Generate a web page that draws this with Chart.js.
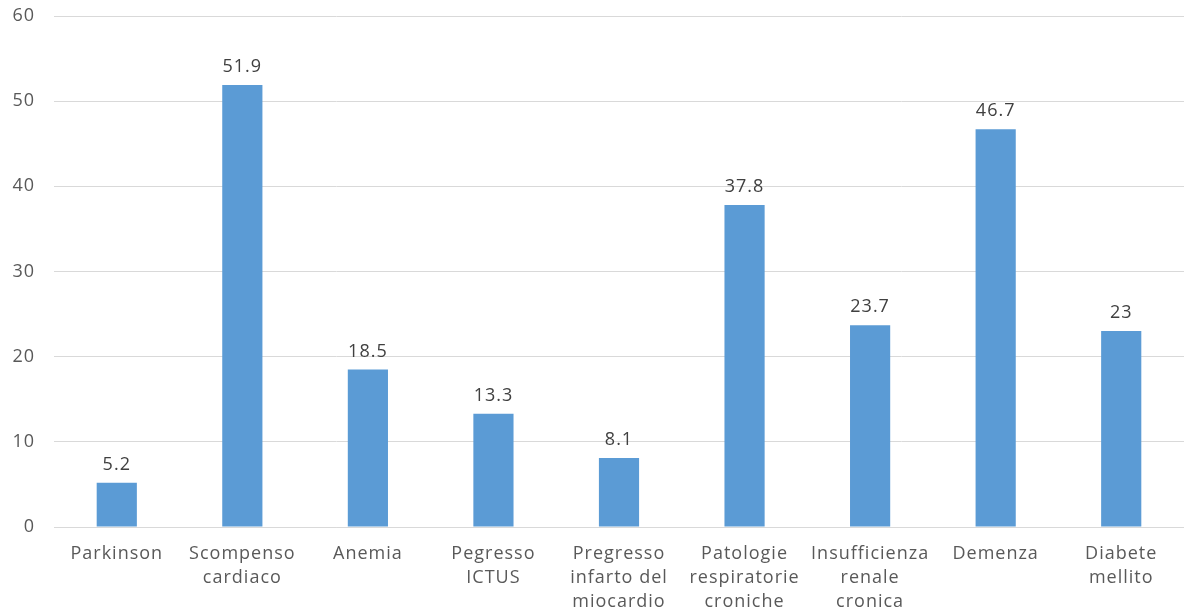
<!DOCTYPE html>
<html>
<head>
<meta charset="utf-8">
<script src="https://cdn.jsdelivr.net/npm/chart.js@4.4.0/dist/chart.umd.min.js"></script>
<style>
  html, body { margin: 0; padding: 0; background: #ffffff; }
  #wrap { width: 1184px; height: 610px; }
</style>
</head>
<body>
<div id="wrap"><canvas id="chart" width="1184" height="610"></canvas></div>
<script>
// Comorbidity categories (multi-line labels) and prevalence values
const categories = [
  ['Parkinson'],
  ['Scompenso', 'cardiaco'],
  ['Anemia'],
  ['Pegresso', 'ICTUS'],
  ['Pregresso', 'infarto del', 'miocardio'],
  ['Patologie', 'respiratorie', 'croniche'],
  ['Insufficienza', 'renale', 'cronica'],
  ['Demenza'],
  ['Diabete', 'mellito']
];
const values = [5.2, 51.9, 18.5, 13.3, 8.1, 37.8, 23.7, 46.7, 23];
const yTicks = [0, 10, 20, 30, 40, 50, 60];

const FONT = '"Open Sans", "DejaVu Sans", sans-serif';

// Slightly wider text tracking for all canvas text
const tracking = {
  id: 'tracking',
  beforeDraw(chart) { chart.ctx.letterSpacing = '1px'; }
};

// Writes each bar's value just above it
const valueLabels = {
  id: 'valueLabels',
  afterDatasetsDraw(chart) {
    const ctx = chart.ctx;
    const meta = chart.getDatasetMeta(0);
    ctx.save();
    ctx.font = '18px ' + FONT;
    ctx.fillStyle = '#404040';
    ctx.textAlign = 'center';
    ctx.textBaseline = 'bottom';
    meta.data.forEach((bar, i) => {
      ctx.fillText(String(values[i]), bar.x, bar.y - 9);
    });
    ctx.restore();
  }
};

new Chart(document.getElementById('chart'), {
  type: 'bar',
  data: {
    labels: categories,
    datasets: [{
      data: values,
      backgroundColor: '#5B9BD5',
      borderWidth: 0,
      barPercentage: 1,
      categoryPercentage: 0.32
    }]
  },
  options: {
    responsive: false,
    animation: false,
    layout: { padding: { top: 0, right: 0, bottom: 0, left: 0 } },
    plugins: {
      legend: { display: false },
      tooltip: { enabled: false }
    },
    scales: {
      x: {
        grid: { display: false },
        border: { display: true, color: '#D9D9D9', width: 1 },
        ticks: {
          color: '#595959',
          font: { family: FONT, size: 18, lineHeight: 1.34 },
          maxRotation: 0,
          minRotation: 0,
          autoSkip: false,
          padding: 7
        },
        afterFit(scale) { scale.height = 83; }
      },
      y: {
        min: 0,
        max: 60,
        afterBuildTicks(scale) { scale.ticks = yTicks.map(v => ({ value: v })); },
        grid: { color: '#D9D9D9', lineWidth: 1, drawTicks: false },
        border: { display: false },
        ticks: {
          color: '#595959',
          font: { family: FONT, size: 18 },
          padding: 19
        },
        afterFit(scale) {
          scale.width = 54;
          scale.paddingTop = 16;
          scale.paddingBottom = 0;
        }
      }
    }
  },
  plugins: [tracking, valueLabels]
});
</script>
</body>
</html>
